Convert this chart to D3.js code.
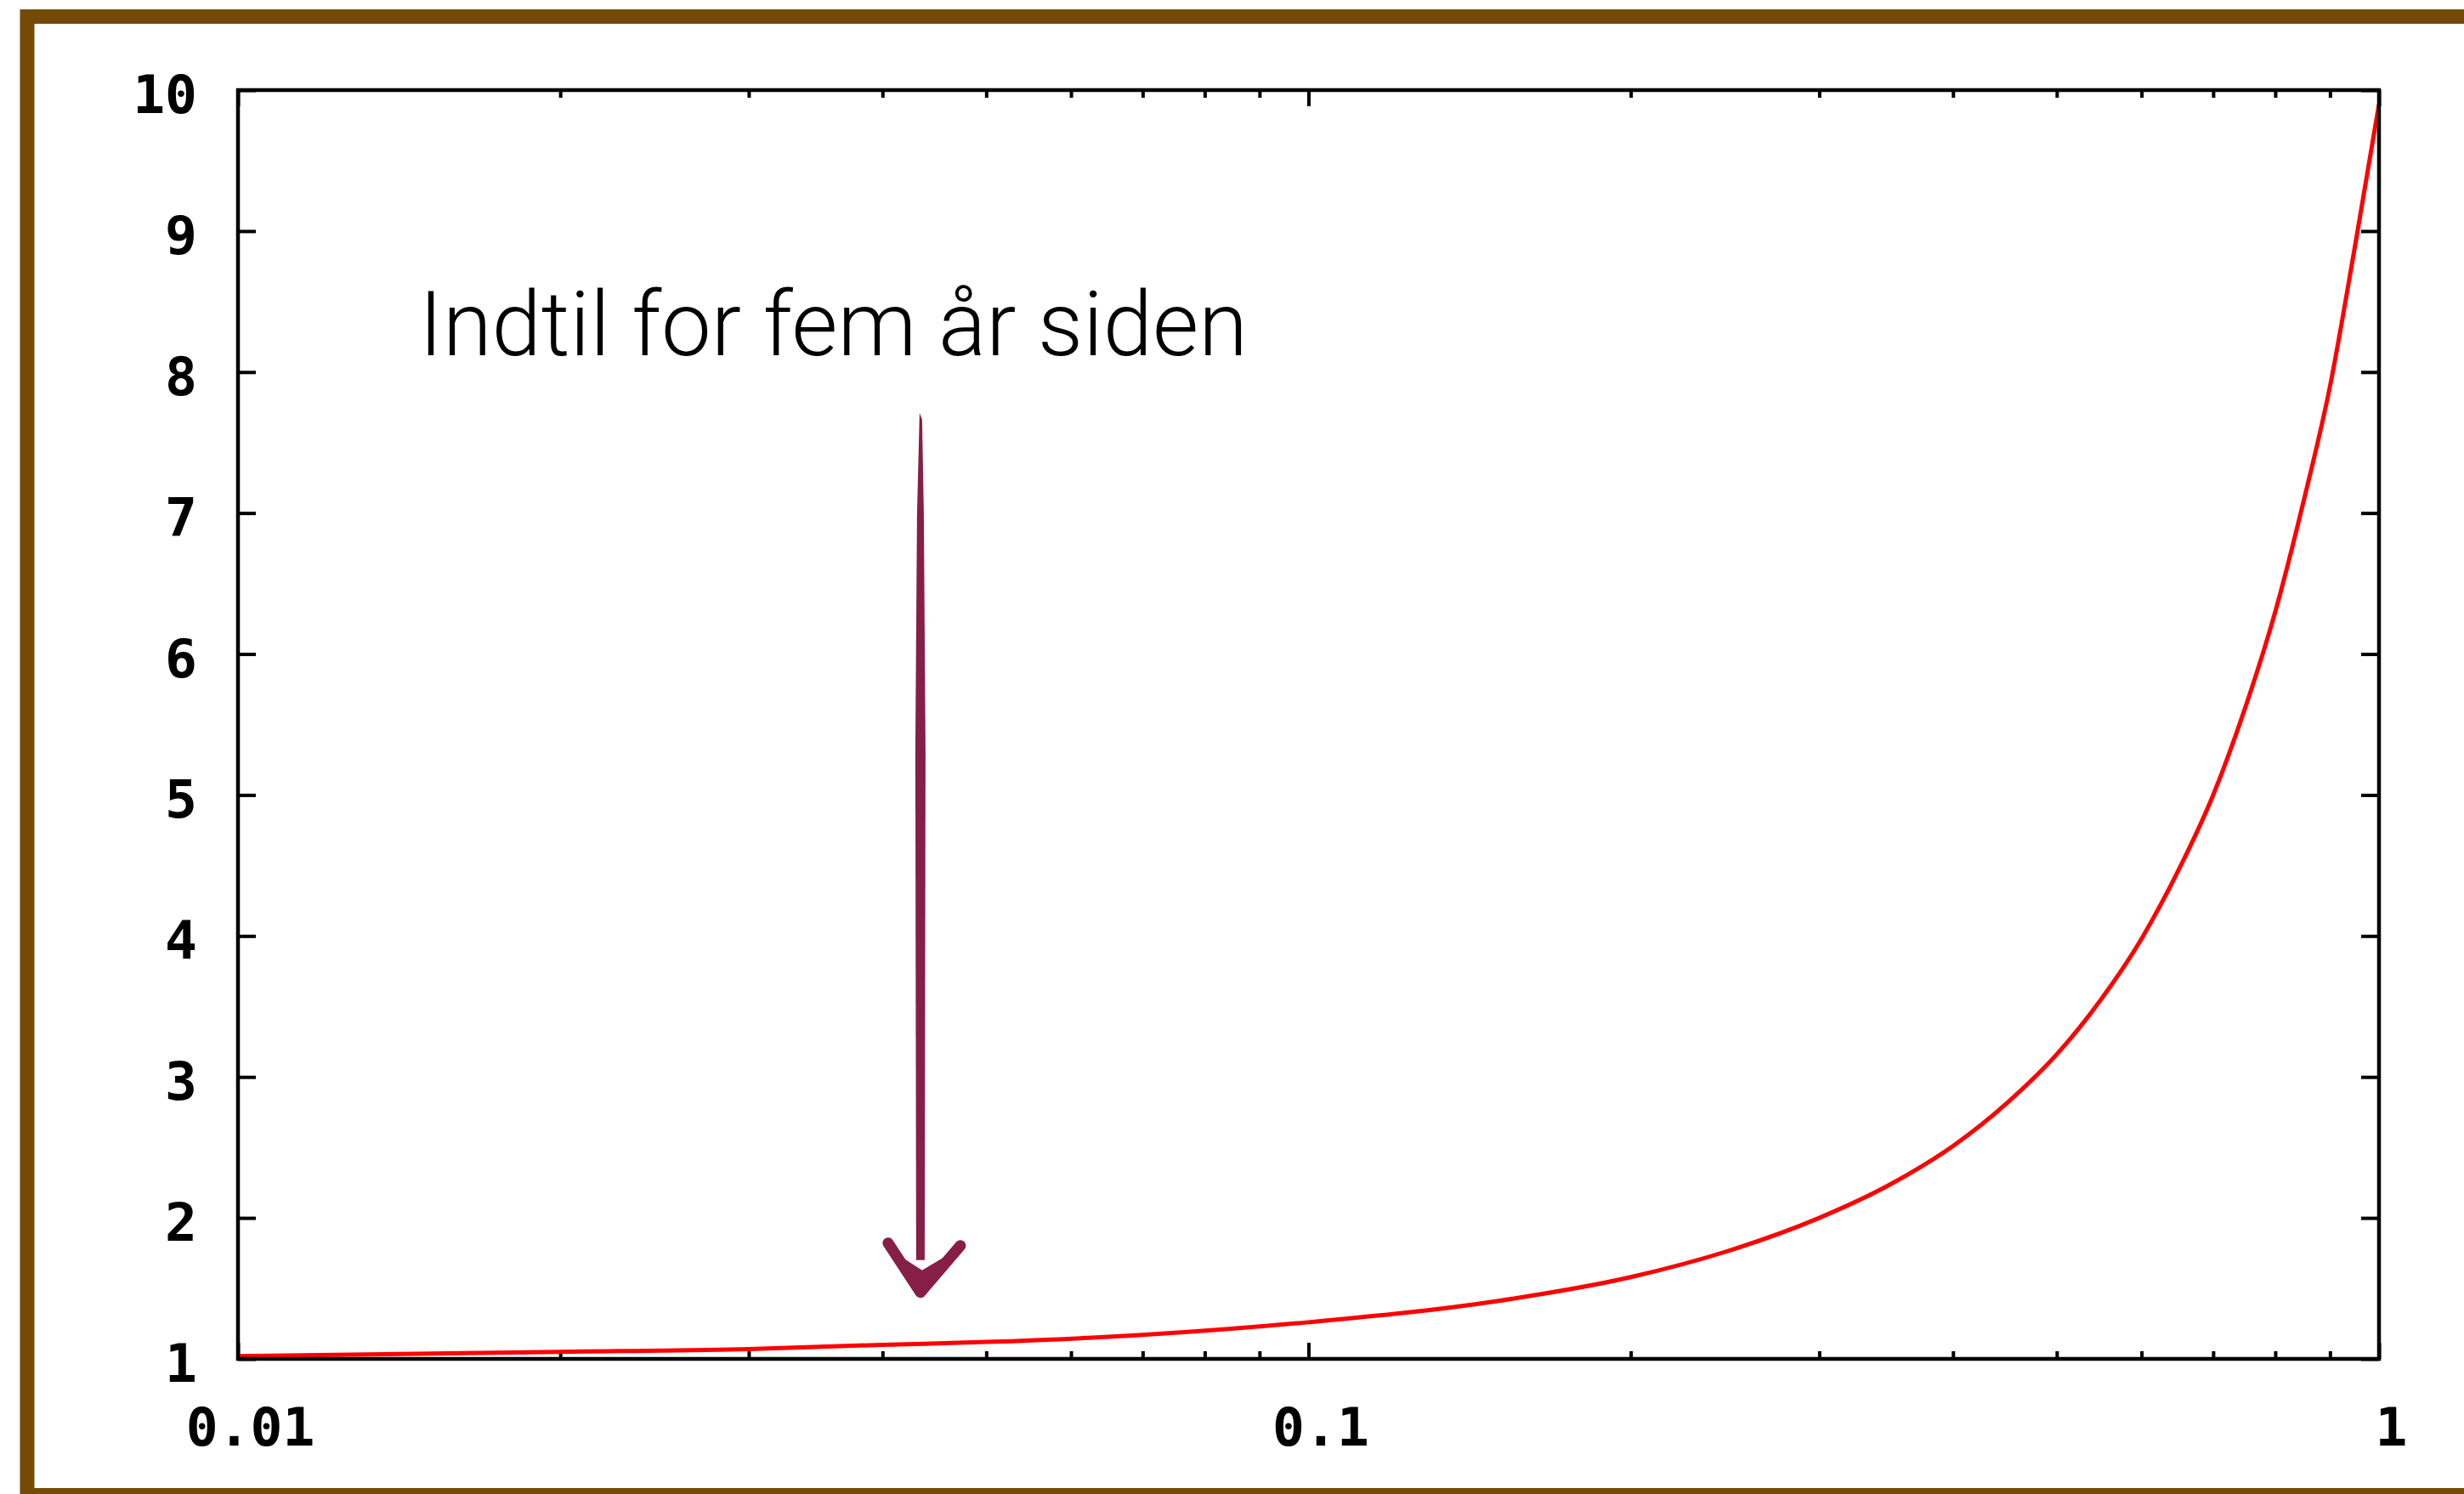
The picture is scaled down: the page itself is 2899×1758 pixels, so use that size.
<!DOCTYPE html>
<html>
<head>
<meta charset="utf-8">
<script src="https://cdn.jsdelivr.net/npm/d3@7"></script>
<style>
  html, body { margin: 0; padding: 0; background: #ffffff; }
  svg { display: block; }
</style>
</head>
<body>
<svg id="chart" width="2899" height="1758"></svg>
<script>
// ---------------- data ----------------
const curveX = [0.01, 0.02, 0.03, 0.04, 0.05, 0.07, 0.1, 0.15, 0.2, 0.25, 0.3, 0.35, 0.4, 0.45, 0.5, 0.55, 0.6, 0.65, 0.7, 0.75, 0.8, 0.85, 0.9, 0.95, 1.0];
const curveY = [1.02, 1.05, 1.07, 1.10, 1.12, 1.17, 1.26, 1.41, 1.58, 1.78, 2.0, 2.24, 2.51, 2.82, 3.16, 3.55, 3.98, 4.47, 5.0, 5.62, 6.3, 7.08, 7.9, 8.9, 9.9];

const xMajorTicks = [0.01, 0.1, 1];
const xTickLabels = ["0.01", "0.1", "1"];
const xMinorTicks = [0.02, 0.03, 0.04, 0.05, 0.06, 0.07, 0.08, 0.09, 0.2, 0.3, 0.4, 0.5, 0.6, 0.7, 0.8, 0.9];
const yTicks = [1, 2, 3, 4, 5, 6, 7, 8, 9, 10];
const yTickLabels = ["1", "2", "3", "4", "5", "6", "7", "8", "9", "10"];

const annotationText = "Indtil for fem år siden";
const annotationTextAt = [0.01476, 8.12];   // data coords of text start (baseline)
const arrowX = [0.0434];                    // arrow position (data x)
const arrowYRange = [7.71, 1.46];           // arrow top and tip (data y)

// ---------------- layout ----------------
const W = 2899, H = 1758;
const plot = { left: 280, right: 2799, top: 106, bottom: 1599 };

const svg = d3.select("#chart");

svg.append("rect").attr("width", W).attr("height", H).attr("fill", "#ffffff");

// brown frame (cropped on the right)
svg.append("rect")
  .attr("x", 32).attr("y", 19.5)
  .attr("width", W + 40).attr("height", 1740)
  .attr("fill", "none")
  .attr("stroke", "#744b06")
  .attr("stroke-width", 17);

const x = d3.scaleLog().domain([0.01, 1]).range([plot.left, plot.right]);
const y = d3.scaleLinear().domain([1, 10]).range([plot.bottom, plot.top]);

const tickFont = "'DejaVu Sans Mono', 'Liberation Mono', monospace";

function styleAxis(g) {
  g.select(".domain").remove();
  g.selectAll(".tick line").attr("stroke", "#000").attr("stroke-width", 4);
}

// left axis
const gLeft = svg.append("g").attr("transform", `translate(${plot.left},0)`)
  .call(d3.axisLeft(y).tickValues(yTicks).tickSize(-21).tickPadding(48)
    .tickFormat((d, i) => yTickLabels[i]));
styleAxis(gLeft);
gLeft.selectAll(".tick text")
  .attr("font-family", tickFont).attr("font-weight", "bold").attr("font-size", 63)
  .attr("fill", "#000").attr("dy", "0.42em");

// right axis (mirror ticks)
const gRight = svg.append("g").attr("transform", `translate(${plot.right},0)`)
  .call(d3.axisRight(y).tickValues(yTicks).tickSize(-21).tickFormat(""));
styleAxis(gRight);

// bottom axis
const gBottom = svg.append("g").attr("transform", `translate(0,${plot.bottom})`)
  .call(d3.axisBottom(x).tickValues(xMajorTicks).tickSize(-19).tickPadding(57)
    .tickFormat((d, i) => xTickLabels[i]));
styleAxis(gBottom);
gBottom.selectAll(".tick text")
  .attr("font-family", tickFont).attr("font-weight", "bold").attr("font-size", 63)
  .attr("fill", "#000").attr("dx", 14).attr("dy", "0.71em");

const gBottomMinor = svg.append("g").attr("transform", `translate(0,${plot.bottom})`)
  .call(d3.axisBottom(x).tickValues(xMinorTicks).tickSize(-9).tickFormat(""));
styleAxis(gBottomMinor);

// top axis (mirror)
const gTop = svg.append("g").attr("transform", `translate(0,${plot.top})`)
  .call(d3.axisTop(x).tickValues(xMajorTicks).tickSize(-19).tickFormat(""));
styleAxis(gTop);
const gTopMinor = svg.append("g").attr("transform", `translate(0,${plot.top})`)
  .call(d3.axisTop(x).tickValues(xMinorTicks).tickSize(-9).tickFormat(""));
styleAxis(gTopMinor);

// curve
const pts = curveX.map((d, i) => [d, curveY[i]]);
svg.append("path")
  .datum(pts)
  .attr("fill", "none")
  .attr("stroke", "#ff0000")
  .attr("stroke-width", 5)
  .attr("d", d3.line().x(d => x(d[0])).y(d => y(d[1])).curve(d3.curveMonotoneX));

// frame box
svg.append("rect")
  .attr("x", plot.left).attr("y", plot.top)
  .attr("width", plot.right - plot.left).attr("height", plot.bottom - plot.top)
  .attr("fill", "none").attr("stroke", "#000").attr("stroke-width", 4.5);

// annotation text
const txt = svg.append("text")
  .attr("x", x(annotationTextAt[0])).attr("y", y(annotationTextAt[1]))
  .attr("font-family", "Roboto, 'Open Sans', sans-serif")
  .attr("font-weight", 300)
  .attr("font-size", 112)
  .attr("fill", "#000")
  .text(annotationText);
const targetW = 975;
const curW = txt.node().getComputedTextLength();
if (curW > 0) txt.attr("font-size", 112 * Math.min(1.1, Math.max(0.9, targetW / curW)));
txt.attr("textLength", targetW).attr("lengthAdjust", "spacingAndGlyphs");

// hand-drawn arrow
const ax = x(arrowX[0]);
const aTop = y(arrowYRange[0]);
const aTip = y(arrowYRange[1]);
const arrowColor = "#861e48";
const ag = svg.append("g");
// shaft: tapering polygon
ag.append("path")
  .attr("d", `M${ax - 1},${aTop} L${ax + 2},${aTop + 8} L${ax + 4},${aTop + 120} L${ax + 6},${aTop + 400} L${ax + 5},${aTip - 40} L${ax - 5},${aTip - 40} L${ax - 6},${aTop + 400} L${ax - 4},${aTop + 120} Z`)
  .attr("fill", arrowColor);
// head
ag.append("path")
  .attr("d", `M${ax - 38},${aTip - 60} L${ax},${aTip - 2} L${ax + 47},${aTip - 57}`)
  .attr("fill", "none").attr("stroke", arrowColor)
  .attr("stroke-width", 13).attr("stroke-linecap", "round").attr("stroke-linejoin", "round");
ag.append("path")
  .attr("d", `M${ax - 26},${aTip - 46} L${ax},${aTip - 4} L${ax + 32},${aTip - 46} L${ax + 2},${aTip - 28} Z`)
  .attr("fill", arrowColor);
</script>
</body>
</html>
